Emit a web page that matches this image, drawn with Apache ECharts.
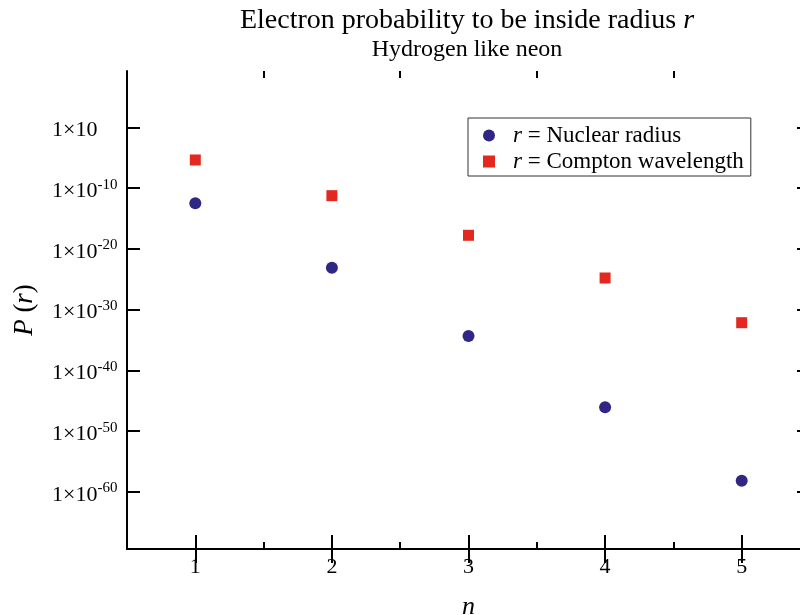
<!DOCTYPE html>
<html>
<head>
<meta charset="utf-8">
<script src="https://cdn.jsdelivr.net/npm/echarts@6/dist/echarts.min.js"></script>
<style>
html,body{margin:0;padding:0;background:#fff;}
#chart{width:800px;height:615px;}
</style>
</head>
<body>
<div id="chart"></div>
<script>
// ---- data ----
const nValues = [1, 2, 3, 4, 5];
const nuclearRadiusP = [3.2e-13, 7.9e-24, 4.6e-35, 8.5e-47, 7.2e-59];
const comptonWavelengthP = [4.2e-6, 5.6e-12, 1.7e-18, 1.6e-25, 7.1e-33];
const seriesNames = ['Nuclear radius', 'Compton wavelength'];
const xMajorTicks = [1, 2, 3, 4, 5];
const xMinorTicks = [1.5, 2.5, 3.5, 4.5];
const yTickExponents = [0, -10, -20, -30, -40, -50, -60];
const titleText = 'Electron probability to be inside radius ';
const subtitleText = 'Hydrogen like neon';

const yTicks = yTickExponents.map(e => Math.pow(10, e));
const xRange = [0.5, 5.5];
const yRange = [Math.pow(10, -69.38), Math.pow(10, 9.26)];

const FONT = '"Liberation Serif", "Times New Roman", serif';
const gridRect = { left: 127, width: 683, top: 71, height: 478, outerBoundsMode: 'none', containLabel: false };

function yLabel(v) {
  const e = Math.round(Math.log10(v));
  return e === 0 ? '{b|1×10}' : '{b|1×10}{s|' + e + '}';
}

const chart = echarts.init(document.getElementById('chart'), null, { renderer: 'canvas' });
const axisLineStyle = { color: '#000', width: 2 };

const option = {
  animation: false,
  backgroundColor: '#fff',
  title: {
    left: 462, top: 2, textAlign: 'center', itemGap: 3,
    text: '{t|' + titleText + '}{ti|r}',
    subtext: subtitleText,
    textStyle: {
      fontWeight: 'normal',
      rich: {
        t: { fontFamily: FONT, fontSize: 28, fontWeight: 'normal', color: '#000' },
        ti: { fontFamily: FONT, fontSize: 28, fontWeight: 'normal', fontStyle: 'italic', color: '#000' }
      }
    },
    subtextStyle: { fontFamily: FONT, fontSize: 24, color: '#000' }
  },
  legend: {
    orient: 'vertical',
    left: 468, top: 118,
    padding: [6, 7, 3, 15],
    itemGap: 3,
    itemWidth: 12, itemHeight: 12,
    borderColor: '#333', borderWidth: 1,
    data: [
      { name: seriesNames[0], icon: 'circle' },
      { name: seriesNames[1], icon: 'rect' }
    ],
    formatter: function (name) { return '{g|}{i|r}{t| = ' + name + '}'; },
    textStyle: {
      rich: {
        g: { width: 13 },
        i: { fontFamily: FONT, fontSize: 23, fontStyle: 'italic', color: '#000', lineHeight: 22 },
        t: { fontFamily: FONT, fontSize: 23, color: '#000', lineHeight: 22 }
      }
    }
  },
  grid: [
    Object.assign({}, gridRect),
    Object.assign({}, gridRect)
  ],
  xAxis: [
    {
      gridIndex: 0, type: 'value', position: 'bottom', min: xRange[0], max: xRange[1],
      axisLine: { lineStyle: axisLineStyle },
      axisTick: { inside: true, length: 14, lineStyle: { color: '#000', width: 2 }, customValues: xMajorTicks },
      axisLabel: { customValues: xMajorTicks, fontFamily: FONT, fontSize: 22, color: '#000', margin: 7 },
      splitLine: { show: false },
      name: 'n', nameLocation: 'middle', nameGap: 45,
      nameTextStyle: { fontFamily: FONT, fontSize: 26, fontStyle: 'italic', color: '#000' }
    },
    {
      gridIndex: 0, type: 'value', position: 'top', min: xRange[0], max: xRange[1],
      axisLine: { lineStyle: axisLineStyle },
      axisTick: { inside: true, length: 14, lineStyle: { color: '#000', width: 2 }, customValues: xMajorTicks },
      axisLabel: { show: false },
      splitLine: { show: false }
    },
    {
      gridIndex: 1, type: 'value', position: 'bottom', min: xRange[0], max: xRange[1],
      axisLine: { show: false },
      axisTick: { inside: true, length: 7, lineStyle: { color: '#000', width: 2 }, customValues: xMinorTicks },
      axisLabel: { show: false },
      splitLine: { show: false }
    },
    {
      gridIndex: 1, type: 'value', position: 'top', min: xRange[0], max: xRange[1],
      axisLine: { show: false },
      axisTick: { inside: true, length: 7, lineStyle: { color: '#000', width: 2 }, customValues: xMinorTicks },
      axisLabel: { show: false },
      splitLine: { show: false }
    }
  ],
  yAxis: [
    {
      gridIndex: 0, type: 'log', logBase: 10, position: 'left', min: yRange[0], max: yRange[1],
      axisLine: { lineStyle: axisLineStyle },
      axisTick: { inside: true, length: 13, lineStyle: { color: '#000', width: 2 }, customValues: yTicks },
      axisLabel: {
        customValues: yTicks, formatter: yLabel, align: 'left', margin: 75,
        padding: [6, 0, 0, 0],
        rich: {
          b: { fontFamily: FONT, fontSize: 22, color: '#000', lineHeight: 28 },
          s: { fontFamily: FONT, fontSize: 15, color: '#000', verticalAlign: 'top', lineHeight: 15 }
        }
      },
      splitLine: { show: false },
      minorTick: { show: false },
      name: '{i|P} ({i|r})', nameLocation: 'middle', nameGap: 89, nameRotate: 90,
      nameTextStyle: {
        rich: {
          i: { fontFamily: FONT, fontSize: 27, fontStyle: 'italic', color: '#000' }
        },
        fontFamily: FONT, fontSize: 27, color: '#000'
      }
    },
    {
      gridIndex: 0, type: 'log', logBase: 10, position: 'right', min: yRange[0], max: yRange[1],
      axisLine: { lineStyle: axisLineStyle },
      axisTick: { inside: true, length: 13, lineStyle: { color: '#000', width: 2 }, customValues: yTicks },
      axisLabel: { show: false },
      splitLine: { show: false }
    },
    {
      gridIndex: 1, type: 'value', show: false, min: 0, max: 1,
      splitLine: { show: false }
    }
  ],
  series: [
    {
      name: seriesNames[0], type: 'scatter', xAxisIndex: 0, yAxisIndex: 0,
      symbol: 'circle', symbolSize: 12,
      itemStyle: { color: '#302784', opacity: 1 },
      data: nValues.map((n, i) => [n, nuclearRadiusP[i]])
    },
    {
      name: seriesNames[1], type: 'scatter', xAxisIndex: 0, yAxisIndex: 0,
      symbol: 'rect', symbolSize: 11,
      itemStyle: { color: '#e2281f', opacity: 1 },
      data: nValues.map((n, i) => [n, comptonWavelengthP[i]])
    }
  ]
};
chart.setOption(option);
</script>
</body>
</html>
